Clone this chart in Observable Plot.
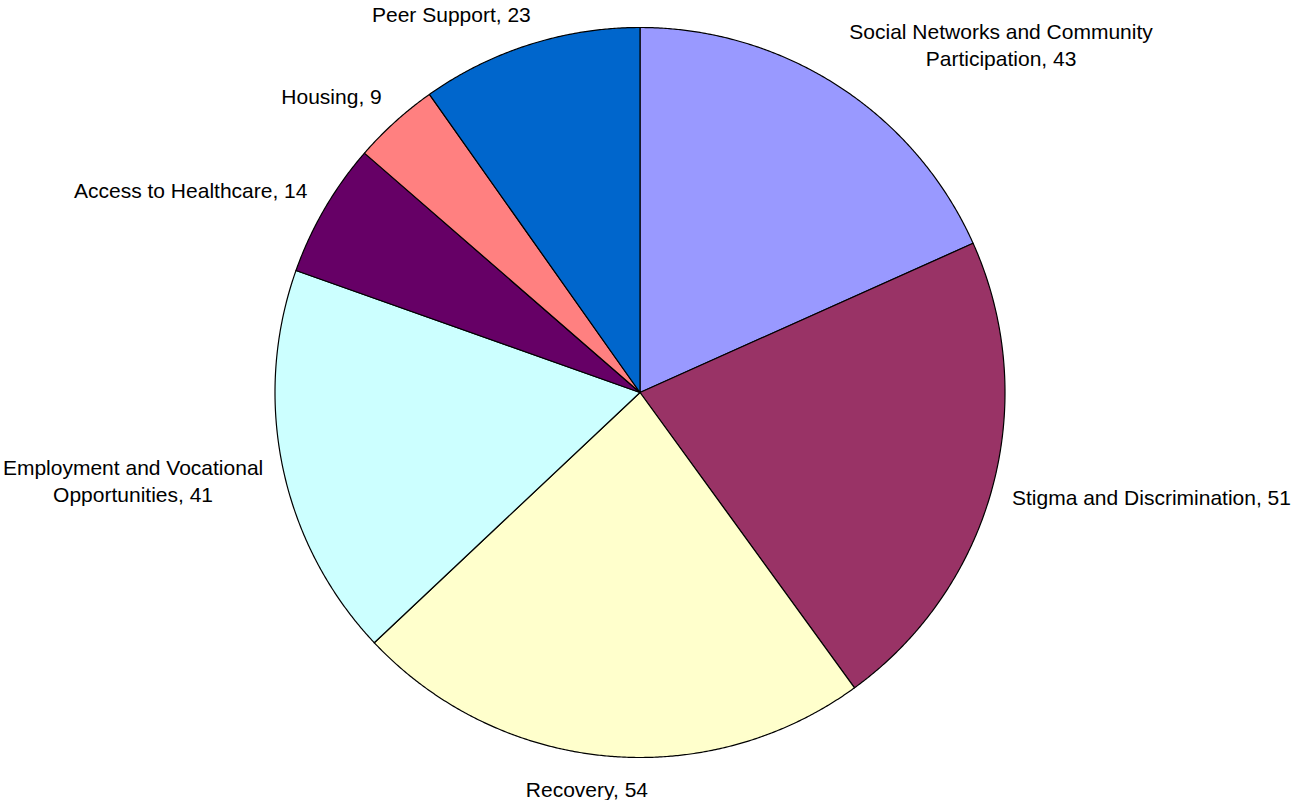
<!DOCTYPE html>
<html>
<head>
<meta charset="utf-8">
<script src="https://cdn.jsdelivr.net/npm/d3@7"></script>
<script src="https://cdn.jsdelivr.net/npm/@observablehq/plot@0.6"></script>
<style>
  html, body { margin: 0; padding: 0; background: #ffffff; }
  #chart { width: 1294px; height: 800px; }
</style>
</head>
<body>
<div id="chart"></div>
<script>
// ---- Data ----
const categories = [
  "Social Networks and Community\nParticipation",
  "Stigma and Discrimination",
  "Recovery",
  "Employment and Vocational\nOpportunities",
  "Access to Healthcare",
  "Housing",
  "Peer Support"
];
const values = [43, 51, 54, 41, 14, 9, 23];
const colors = ["#9999FF", "#993366", "#FFFFCC", "#CCFFFF", "#660066", "#FF8080", "#0066CC"];

// ---- Layout ----
const W = 1294, H = 800;
const cx = 639.5, cy = 392, R = 365;
const fontSize = 21, lineHeight = 1.3;
const fontFamily = "Arial, 'Liberation Sans', Helvetica, sans-serif";

const total = d3.sum(values);
let acc = 0;
const slices = categories.map((c, i) => {
  const a0 = acc / total * 2 * Math.PI;
  acc += values[i];
  const a1 = acc / total * 2 * Math.PI;
  return {cat: c, value: values[i], a0, a1};
});

// polygon points for each slice (data space: unit circle, y up, clockwise from top)
const pts = [];
for (const s of slices) {
  pts.push({cat: s.cat, x: 0, y: 0});
  const n = Math.max(2, Math.ceil((s.a1 - s.a0) / 0.005));
  for (let k = 0; k <= n; k++) {
    const a = s.a0 + (s.a1 - s.a0) * k / n;
    pts.push({cat: s.cat, x: Math.sin(a), y: Math.cos(a)});
  }
}

// label placement (Excel-like outside end)
const ctx = document.createElement("canvas").getContext("2d");
ctx.font = `${fontSize}px ${fontFamily}`;
const clamp = v => Math.max(-1, Math.min(1, v));
const Rl = 385;
const labels = slices.map(s => {
  const text = `${s.cat}, ${s.value}`;
  const lines = text.split("\n");
  const w = d3.max(lines, l => ctx.measureText(l).width);
  const h = fontSize * (lineHeight * (lines.length - 1) + 1.15);
  const m = (s.a0 + s.a1) / 2;
  const sn = Math.sin(m), cs = Math.cos(m);
  const px = cx + Rl * sn, py = cy - Rl * cs;
  const Cx = px + (w / 2) * clamp(3 * sn);
  const Cy = py - (h / 2) * clamp(1.5 * cs);
  return {label: text, x: (Cx - cx) / R, y: (cy - Cy) / R};
});

const chart = Plot.plot({
  width: W,
  height: H,
  margin: 0,
  style: {background: "#ffffff", fontFamily},
  x: {domain: [-1, 1], range: [cx - R, cx + R], axis: null},
  y: {domain: [-1, 1], range: [cy + R, cy - R], axis: null},
  color: {type: "ordinal", domain: categories, range: colors},
  marks: [
    Plot.line(pts, {
      x: "x", y: "y", z: "cat", fill: "cat",
      stroke: "#000000", strokeWidth: 1.2, strokeLinejoin: "round",
      curve: "linear-closed"
    }),
    Plot.text(labels, {
      x: "x", y: "y", text: "label",
      textAnchor: "middle", lineAnchor: "middle",
      fontSize, lineHeight, fontFamily, fill: "#000000"
    })
  ]
});
document.getElementById("chart").appendChild(chart);
</script>
</body>
</html>
